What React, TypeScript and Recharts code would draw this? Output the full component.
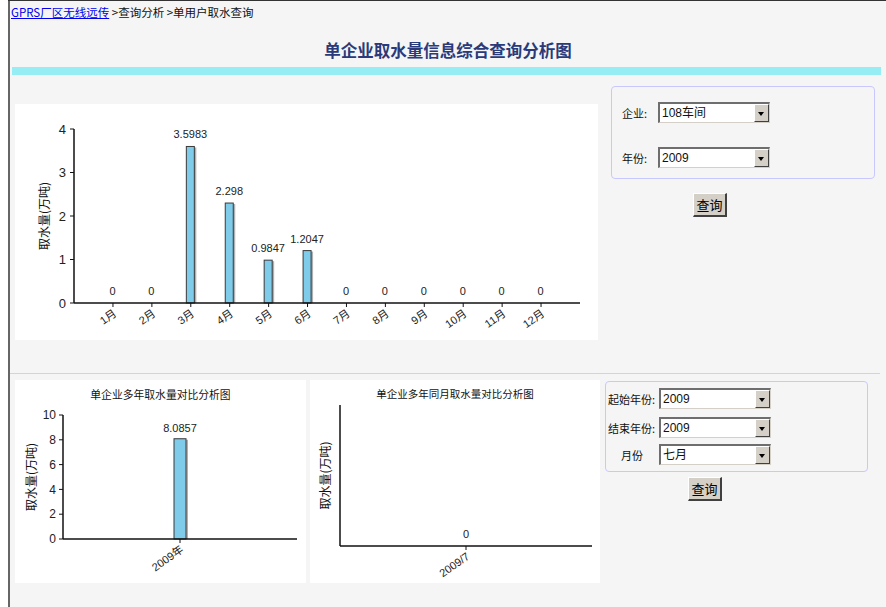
import { BarChart, Bar, XAxis, YAxis, LabelList } from 'recharts';

const months = ['1月', '2月', '3月', '4月', '5月', '6月', '7月', '8月', '9月', '10月', '11月', '12月'];
const monthlyUse = [0, 0, 3.5983, 2.298, 0.9847, 1.2047, 0, 0, 0, 0, 0, 0];
const monthTicks = [0, 1, 2, 3, 4];

const years = ['2009年'];
const yearlyUse = [8.0857];
const yearTicks = [0, 2, 4, 6, 8, 10];

const sameMonths = ['2009/7'];
const sameMonthUse = [0];

const monthData = months.map((name, i) => ({ name, value: monthlyUse[i] }));
const yearData = years.map((name, i) => ({ name, value: yearlyUse[i] }));
const sameMonthData = sameMonths.map((name, i) => ({ name, value: sameMonthUse[i] }));

const FONT = "'Liberation Sans', 'Noto Sans CJK SC', sans-serif";
const CJK = "'Noto Sans CJK SC', 'Liberation Sans', sans-serif";

const ShadowBar = (props: any) => {
  const { x, y, width, height } = props;
  if (!height || height <= 0) return null;
  return (
    <g>
      <rect x={x + 2} y={y + 1} width={width} height={height - 1} fill="#b0b0b0" />
      <rect x={x} y={y} width={width} height={height} fill="#7ecbea" stroke="#3a3a3a" strokeWidth={1} />
    </g>
  );
};

const AngledTick = (props: any) => {
  const { x, y, payload } = props;
  return (
    <g transform={`translate(${x + 2},${y + 3})`}>
      <text x={0} y={0} dy={4} textAnchor="end" transform="rotate(-35)" fontSize={11} fill="#222" fontFamily={FONT}>
        {payload.value}
      </text>
    </g>
  );
};

const yLabel = (dx: number) => (props: any) => {
  const { viewBox } = props;
  const cx = viewBox.x + dx;
  const cy = viewBox.y + viewBox.height / 2;
  return (
    <text x={cx} y={cy} textAnchor="middle" dominantBaseline="middle" transform={`rotate(-90, ${cx}, ${cy})`} fontSize={12} fill="#111" fontFamily={CJK}>
      取水量(万吨)
    </text>
  );
};

const Select = ({ left, top, text }: { left: number; top: number; text: string }) => (
  <div style={{ position: 'absolute', left, top, width: 112, height: 21, boxSizing: 'border-box', background: '#fff', borderTop: '2px solid #6e6e6e', borderLeft: '2px solid #6e6e6e', borderRight: '1px solid #d4d0c8', borderBottom: '1px solid #d4d0c8' }}>
    <div style={{ position: 'absolute', left: 2, top: 0, fontSize: 12, lineHeight: '18px', fontFamily: FONT, color: '#111' }}>{text}</div>
    <div style={{ position: 'absolute', right: 0, top: 0, width: 15, height: 18, boxSizing: 'border-box', background: '#d4d0c8', borderTop: '1px solid #fff', borderLeft: '1px solid #fff', borderRight: '1px solid #404040', borderBottom: '1px solid #404040' }}>
      <div style={{ position: 'absolute', left: 3, top: 7, width: 0, height: 0, borderLeft: '3.5px solid transparent', borderRight: '3.5px solid transparent', borderTop: '4px solid #000' }} />
    </div>
  </div>
);

const Button = ({ left, top }: { left: number; top: number }) => (
  <div style={{ position: 'absolute', left, top, width: 34, height: 24, boxSizing: 'border-box', background: '#d4d0c8', borderTop: '1px solid #fff', borderLeft: '1px solid #fff', borderRight: '2px solid #404040', borderBottom: '2px solid #404040', fontSize: 13, lineHeight: '21px', textAlign: 'center', fontFamily: CJK, color: '#000' }}>
    查询
  </div>
);

const Text = ({ left, top, children, style }: any) => (
  <div style={{ position: 'absolute', left, top, fontSize: 11, lineHeight: '14px', fontFamily: CJK, color: '#111', whiteSpace: 'nowrap', ...style }}>{children}</div>
);

export default function App() {
  return (
    <div style={{ position: 'absolute', left: 0, top: 0, width: 886, height: 607, background: '#fff', overflow: 'hidden' }}>
      <div style={{ position: 'absolute', left: 10, top: 1, width: 876, height: 606, background: '#f5f5f5' }} />
      <div style={{ position: 'absolute', left: 8, top: 0, width: 2, height: 607, background: '#666' }} />
      <div style={{ position: 'absolute', left: 8, top: 0, width: 878, height: 1, background: '#333' }} />

      <Text left={11} top={5} style={{ fontSize: 11.5 }}>
        <span style={{ color: '#0000ee', textDecoration: 'underline' }}>GPRS厂区无线远传</span>
        <span> &gt;查询分析 &gt;单用户取水查询</span>
      </Text>

      <div style={{ position: 'absolute', left: 10, top: 39, width: 876, textAlign: 'center', fontSize: 16.5, fontWeight: 'bold', lineHeight: '22px', fontFamily: CJK, color: '#2a3a7a' }}>
        单企业取水量信息综合查询分析图
      </div>
      <div style={{ position: 'absolute', left: 12, top: 67, width: 869, height: 8, background: '#96eef4' }} />

      {/* main monthly chart */}
      <div style={{ position: 'absolute', left: 15, top: 104, width: 583, height: 236, background: '#fff' }}>
        <BarChart width={583} height={236} data={monthData} margin={{ top: 25, right: 18, left: 14, bottom: 7 }}>
          <XAxis dataKey="name" height={30} interval={0} padding={{ left: 19.5, right: 19.5 }} tick={<AngledTick />} tickSize={4} axisLine={{ stroke: '#111', strokeWidth: 1.5 }} tickLine={{ stroke: '#111' }} />
          <YAxis width={45} domain={[0, 4]} ticks={monthTicks} tickSize={4} tickMargin={4} axisLine={{ stroke: '#111', strokeWidth: 1.5 }} tickLine={{ stroke: '#111' }} tick={{ fontSize: 13, fill: '#222', fontFamily: FONT }} label={yLabel(17)} />
          <Bar dataKey="value" barSize={8} shape={<ShadowBar />} isAnimationActive={false}>
            <LabelList dataKey="value" position="top" offset={8} fontSize={11} fill="#222" fontFamily={FONT} />
          </Bar>
        </BarChart>
      </div>

      <div style={{ position: 'absolute', left: 611, top: 86, width: 264, height: 93, boxSizing: 'border-box', border: '1px solid #c8c8ff', borderRadius: 4 }} />
      <Text left={622} top={106}>企业:</Text>
      <Select left={658} top={102} text="108车间" />
      <Text left={622} top={151}>年份:</Text>
      <Select left={658} top={147} text="2009" />
      <Button left={693} top={193} />

      <div style={{ position: 'absolute', left: 10, top: 373, width: 870, height: 1, background: '#a6e6ec' }} />

      {/* yearly chart */}
      <div style={{ position: 'absolute', left: 15, top: 380, width: 291, height: 203, background: '#fff' }}>
        <div style={{ position: 'absolute', left: 0, top: 7, width: 291, textAlign: 'center', fontSize: 10.8, lineHeight: '14px', fontFamily: CJK, color: '#111' }}>单企业多年取水量对比分析图</div>
        <BarChart width={291} height={203} data={yearData} margin={{ top: 35, right: 9, left: 3, bottom: 14 }}>
          <XAxis dataKey="name" height={30} interval={0} tick={<AngledTick />} tickSize={4} axisLine={{ stroke: '#111', strokeWidth: 1.5 }} tickLine={{ stroke: '#111' }} />
          <YAxis width={45} domain={[0, 10]} ticks={yearTicks} tickSize={4} tickMargin={3} axisLine={{ stroke: '#111', strokeWidth: 1.5 }} tickLine={{ stroke: '#111' }} tick={{ fontSize: 12, fill: '#222', fontFamily: FONT }} label={yLabel(15)} />
          <Bar dataKey="value" barSize={12} shape={<ShadowBar />} isAnimationActive={false}>
            <LabelList dataKey="value" position="top" offset={7} fontSize={11} fill="#222" fontFamily={FONT} />
          </Bar>
        </BarChart>
      </div>

      {/* same-month chart */}
      <div style={{ position: 'absolute', left: 310, top: 380, width: 290, height: 203, background: '#fff' }}>
        <div style={{ position: 'absolute', left: 0, top: 7, width: 290, textAlign: 'center', fontSize: 10.5, lineHeight: '14px', fontFamily: CJK, color: '#111' }}>单企业多年同月取水量对比分析图</div>
        <BarChart width={290} height={203} data={sameMonthData} margin={{ top: 25, right: 8, left: 10, bottom: 7 }}>
          <XAxis dataKey="name" height={30} interval={0} tick={<AngledTick />} tickSize={4} axisLine={{ stroke: '#111', strokeWidth: 1.5 }} tickLine={{ stroke: '#111' }} />
          <YAxis width={20} domain={[0, 1]} tick={false} tickLine={false} axisLine={{ stroke: '#111', strokeWidth: 1.5 }} label={yLabel(7)} />
          <Bar dataKey="value" barSize={12} shape={<ShadowBar />} isAnimationActive={false}>
            <LabelList dataKey="value" position="top" offset={8} fontSize={11} fill="#222" fontFamily={FONT} />
          </Bar>
        </BarChart>
      </div>

      <div style={{ position: 'absolute', left: 605, top: 381, width: 263, height: 91, boxSizing: 'border-box', border: '1px solid #c8c8ff', borderRadius: 4 }} />
      <Text left={608} top={392}>起始年份:</Text>
      <Select left={659} top={388} text="2009" />
      <Text left={608} top={421}>结束年份:</Text>
      <Select left={659} top={417} text="2009" />
      <Text left={621} top={448}>月份</Text>
      <Select left={659} top={444} text="七月" />
      <Button left={688} top={477} />
    </div>
  );
}
